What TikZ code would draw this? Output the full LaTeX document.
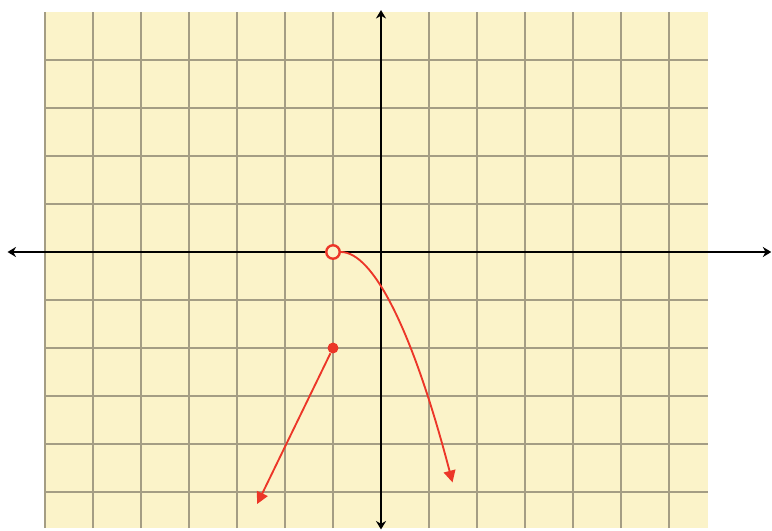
\documentclass[tikz,border=0pt]{standalone}
\usetikzlibrary{arrows.meta}
\definecolor{paper}{HTML}{FBF3C9}
\definecolor{gridc}{HTML}{A49D84}
\definecolor{redc}{HTML}{EC3628}
\tikzset{
  gridline/.style={draw=gridc, line width=0.65pt},
  axisline/.style={draw=black, line width=1.5pt, {Stealth[length=5pt,width=6pt]}-{Stealth[length=5pt,width=6pt]}},
  redline/.style={draw=redc, line width=1.1pt, -{Triangle[length=7pt,width=7pt]}},
  opendot/.style={circle, draw=redc, line width=1.4pt, minimum size=8pt, inner sep=0pt},
  filldot/.style={circle, fill=redc, minimum size=6.5pt, inner sep=0pt}
}
\begin{document}
\begin{tikzpicture}[x=1cm,y=1cm]
\useasboundingbox (-7.9375,-5.7917) rectangle (8.1458,5.25);
\fill[paper] (-7,-5.75) rectangle (6.8125,5);
\foreach \i in {-7,...,6} \draw[gridline] (\i,-5.75) -- (\i,5);
\foreach \j in {-5,...,4} \draw[gridline] (-7,\j) -- (6.8125,\j);
\coordinate (xl) at (-7.78,0);
\coordinate (xr) at (8.13,0);
\coordinate (yt) at (0,5.04);
\coordinate (yb) at (0,-5.78);
\draw[axisline] (xl) -- (xr);
\draw[axisline] (yt) -- (yb);
\node[opendot, fill=paper] (hole) at (-1,0) {};
\node[filldot] (pt) at (-1,-2) {};
\coordinate (c1) at (1.49,-4.8);
\coordinate (c2) at (-2.58,-5.25);
\draw[redline] (hole) .. controls (-0.173,0) and (0.653,-1.6) .. (c1);
\draw[redline] (pt) -- (c2);
\end{tikzpicture}
\end{document}
